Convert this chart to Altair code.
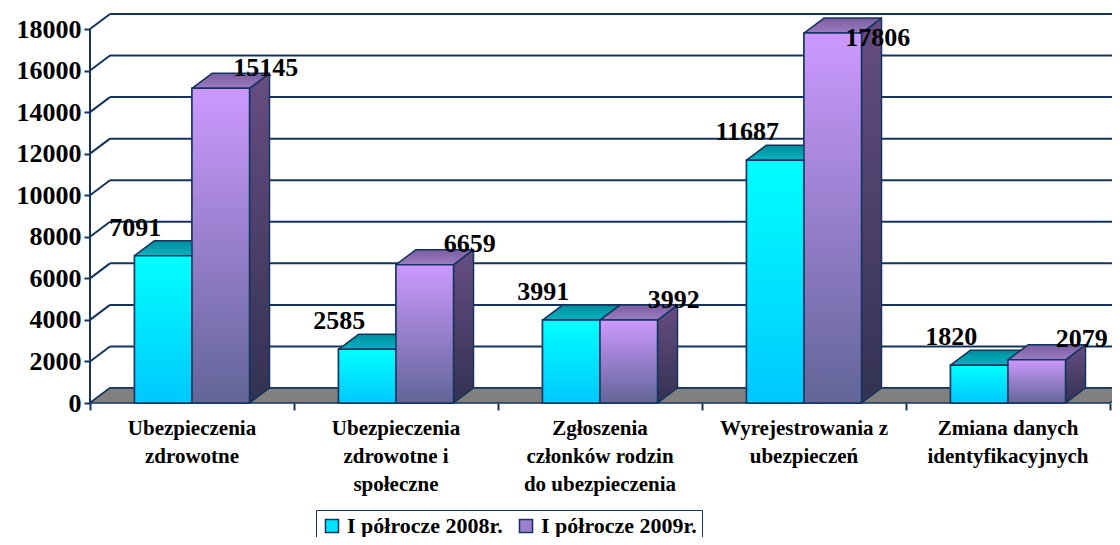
import altair as alt
import pandas as pd

# ---------------- data ----------------
categories = [
    "Ubezpieczenia\nzdrowotne",
    "Ubezpieczenia\nzdrowotne i\nspołeczne",
    "Zgłoszenia\nczłonków rodzin\ndo ubezpieczenia",
    "Wyrejestrowania z\nubezpieczeń",
    "Zmiana danych\nidentyfikacyjnych",
]
series_names = ["I półrocze 2008r.", "I półrocze 2009r."]
values_2008 = [7091, 2585, 3991, 11687, 1820]
values_2009 = [15145, 6659, 3992, 17806, 2079]
y_ticks = [0, 2000, 4000, 6000, 8000, 10000, 12000, 14000, 16000, 18000]

# ---------------- geometry (pseudo 3D) ----------------
W, H = 1022, 393
PX_PER_CAT = 204.0
PX_PER_UNIT = 374.0 / 18000.0
XMAX = W / PX_PER_CAT
YMAX = H / PX_PER_UNIT
DX = 20.0 / PX_PER_CAT      # depth, horizontal
DY = 15.0 / PX_PER_UNIT     # depth, vertical
BW = 57.5 / PX_PER_CAT      # bar width

NAVY = "#14345f"
FONT = "Liberation Serif"

bars = []
for i, cat in enumerate(categories):
    for s, vals in enumerate([values_2008, values_2009]):
        x0 = i + 0.5 - BW if s == 0 else i + 0.5
        bars.append(dict(bar=f"{i}-{s}", series=series_names[s], s=s, cat=i,
                         x0=x0, x1=x0 + BW, xc=x0 + BW / 2, value=vals[i], zero=0))
bars_df = pd.DataFrame(bars)

faces = []
for b in bars:
    v, x0, x1 = b["value"], b["x0"], b["x1"]
    for (x, y, y2) in [(x0, v, v), (x0 + DX, v + DY, v), (x1, v + DY, v), (x1 + DX, v + DY, v + DY)]:
        faces.append(dict(bar=b["bar"], s=b["s"], face="top", x=x, y=y, y2=y2))
    for (x, y, y2) in [(x1, v, 0), (x1 + DX, v + DY, DY)]:
        faces.append(dict(bar=b["bar"], s=b["s"], face="side", x=x, y=y, y2=y2))
faces_df = pd.DataFrame(faces)

floor_df = pd.DataFrame([
    dict(x=0, y=0, y2=0), dict(x=DX, y=DY, y2=0),
    dict(x=5.0, y=DY, y2=0), dict(x=5.0 + DX, y=DY, y2=DY),
])

grid_df = pd.DataFrame(dict(v=y_ticks))
grid_df["vb"] = grid_df["v"] + DY
grid_df["x0"] = 0.0
grid_df["xb"] = DX
grid_df["xe"] = XMAX + 1
grid_df["top"] = 18000

cats_df = pd.DataFrame(dict(label=categories, xc=[i + 0.5 for i in range(len(categories))]))

xs = alt.Scale(domain=[0, XMAX], nice=False, zero=False)
ys = alt.Scale(domain=[0, YMAX], nice=False, zero=False)

X_AX = alt.Axis(values=[0, 1, 2, 3, 4, 5], labels=False, tickSize=7, tickColor=NAVY,
                tickWidth=2, domain=False, grid=False, title=None)
Y_AX = alt.Axis(values=y_ticks, tickSize=6, tickColor=NAVY, tickWidth=2, domain=False,
                grid=False, title=None, labelFont=FONT, labelFontSize=26,
                labelFontWeight="bold", labelColor="black", labelPadding=3, format="d")


def X(field):
    return alt.X(field, scale=xs, axis=X_AX, title=None)


def Y(field):
    return alt.Y(field, scale=ys, axis=Y_AX, title=None)


def grad(top, bottom):
    return alt.Gradient(gradient="linear",
                        stops=[alt.GradientStop(color=top, offset=0),
                               alt.GradientStop(color=bottom, offset=1)],
                        x1=0, x2=0, y1=0, y2=1)


# gridlines at the back wall and diagonal connectors
grid = alt.Chart(grid_df).mark_rule(color=NAVY, strokeWidth=2).encode(
    x=X("xb:Q"), x2="xe:Q", y=Y("vb:Q"),
)
conn = alt.Chart(grid_df).mark_rule(color=NAVY, strokeWidth=2).encode(
    x=X("x0:Q"), x2="xb:Q", y=Y("v:Q"), y2="vb:Q",
)
yaxis_line = alt.Chart(grid_df).transform_filter(alt.datum.v == 0).mark_rule(
    color=NAVY, strokeWidth=2).encode(
    x=X("x0:Q"), y=Y("v:Q"), y2="top:Q",
)

floor = alt.Chart(floor_df).mark_area(fill="#808080", stroke=NAVY, strokeWidth=1.5,
                                      orient="vertical").encode(
    x=X("x:Q"), y=Y("y:Q"), y2="y2:Q",
)

styles = {
    0: dict(front=grad("#00ffff", "#00c8ff"), top=grad("#008c9a", "#00b4c4"),
            side=grad("#006d80", "#004d66")),
    1: dict(front=grad("#cc99ff", "#626598"), top=grad("#7a5ea0", "#9c7cc4"),
            side=grad("#674d82", "#323252")),
}


def face_layer(s, face):
    return alt.Chart(faces_df).transform_filter(
        (alt.datum.s == s) & (alt.datum.face == face)
    ).mark_area(fill=styles[s][face], stroke=NAVY, strokeWidth=1.5,
                orient="vertical", strokeJoin="round").encode(
        x=X("x:Q"), y=Y("y:Q"), y2="y2:Q", detail="bar:N",
    )


# base front faces carrying the legend
front_base = alt.Chart(bars_df).mark_rect(stroke=NAVY, strokeWidth=1.5).encode(
    x=X("x0:Q"), x2="x1:Q", y=Y("zero:Q"), y2="value:Q",
    color=alt.Color("series:N",
                    scale=alt.Scale(domain=series_names, range=["#00e5ff", "#9c7fd0"]),
                    legend=alt.Legend(title=None, orient="none", legendX=226, legendY=500,
                                      direction="horizontal", symbolType="square",
                                      symbolSize=170, symbolStrokeColor=NAVY,
                                      symbolStrokeWidth=1.5, labelFont=FONT,
                                      labelFontSize=22, labelFontWeight="bold",
                                      labelColor="black", strokeColor=NAVY,
                                      fillColor="white", padding=5, columnPadding=12,
                                      labelLimit=0)),
)


def front_layer(s):
    return alt.Chart(bars_df).transform_filter(alt.datum.s == s).mark_rect(
        fill=styles[s]["front"], stroke=NAVY, strokeWidth=1.5).encode(
        x=X("x0:Q"), x2="x1:Q", y=Y("zero:Q"), y2="value:Q",
    )


labels_2008 = alt.Chart(bars_df).transform_filter(alt.datum.s == 0).mark_text(
    font=FONT, fontSize=26, fontWeight="bold", color="black",
    dx=-28, dy=-20, baseline="alphabetic", align="center").encode(
    x=X("xc:Q"), y=Y("value:Q"),
    text=alt.Text("value:Q", format="d"),
)

labels_2009 = alt.Chart(bars_df).transform_filter(alt.datum.s == 1).transform_calculate(
    ly="min(datum.value + 600, 17200)"
).mark_text(
    font=FONT, fontSize=26, fontWeight="bold", color="black",
    dx=45, dy=0, baseline="alphabetic", align="center").encode(
    x=X("xc:Q"), y=Y("ly:Q"),
    text=alt.Text("value:Q", format="d"),
)

cat_labels = alt.Chart(cats_df).mark_text(
    font=FONT, fontSize=21, fontWeight="bold", color="black", lineBreak="\n",
    lineHeight=28, align="center", baseline="alphabetic").encode(
    x=X("xc:Q"),
    y=alt.value(425),
    text="label:N",
)

chart = alt.layer(
    grid, conn, floor, yaxis_line, front_base,
    face_layer(0, "side"), face_layer(0, "top"), front_layer(0),
    face_layer(1, "side"), face_layer(1, "top"), front_layer(1),
    labels_2008, labels_2009,
    cat_labels,
).properties(
    width=W, height=H,
    padding={"left": 82, "top": 2, "right": 0, "bottom": 134},
    autosize=alt.AutoSizeParams(type="none"),
    background="white",
).configure_view(stroke=None)

chart.save("out.html", embed_options={"renderer": "svg", "actions": False})
